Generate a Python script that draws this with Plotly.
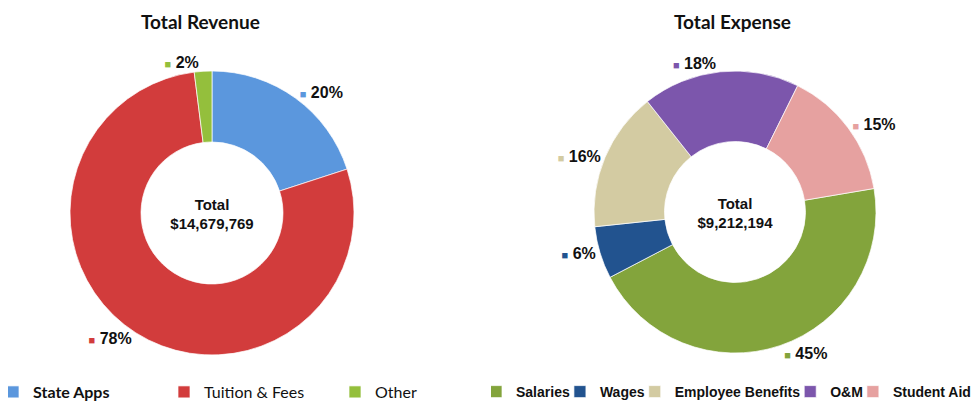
import plotly.graph_objects as go

# ---- data ----
rev_labels = ["State Apps", "Tuition & Fees", "Other"]
rev_values = [20, 78, 2]
rev_total = "$14,679,769"

exp_labels = ["Salaries", "Wages", "Employee Benefits", "O&M", "Student Aid"]
exp_values = [45, 6, 16, 18, 15]
exp_total = "$9,212,194"

# ---- styles ----
rev_colors = ["#5b97dd", "#d23c3c", "#94bf3c"]
exp_colors = ["#83a43c", "#22538f", "#d3cba2", "#7c56ac", "#e6a1a0"]
rev_legend_names = ["<b>" + rev_labels[0] + "</b>"] + rev_labels[1:]

# page body has an 8px margin; size the figure so it fits the 980x402 window
OFF = 8
W, H = 980 - OFF, 402 - OFF


def fx(px):
    return (px - OFF) / W


def fy(py):
    return 1 - (py - OFF) / H


def dom(cx, cy, r):
    return dict(x=[fx(cx - r), fx(cx + r)], y=[fy(cy + r), fy(cy - r)])


def lbl(colors, values):
    return [f"<span style='color:{c};font-size:11px'>■</span> <b>{v:.0f}%</b>" for c, v in zip(colors, values)]


fig = go.Figure()

fig.add_trace(go.Pie(
    labels=rev_legend_names, values=rev_values, sort=False, direction="clockwise", rotation=0,
    hole=0.5, domain=dom(212, 213, 142),
    marker=dict(colors=rev_colors, line=dict(color="rgba(255,255,255,0.7)", width=1)),
    text=lbl(rev_colors, rev_values), textinfo="text", textposition="outside",
    outsidetextfont=dict(family="Liberation Sans", size=16, color="#111111"),
    title=dict(text=f"<b>Total<br>{rev_total}</b>", position="middle center",
               font=dict(family="Liberation Sans", size=15, color="#111111")),
    legend="legend", hoverinfo="label+value+percent",
))

fig.add_trace(go.Pie(
    labels=exp_labels, values=exp_values, sort=False, direction="clockwise", rotation=80.4,
    hole=0.5, domain=dom(735, 212, 141),
    marker=dict(colors=exp_colors, line=dict(color="rgba(255,255,255,0.7)", width=1)),
    text=lbl(exp_colors, exp_values), textinfo="text", textposition="outside",
    outsidetextfont=dict(family="Liberation Sans", size=16, color="#111111"),
    title=dict(text=f"<b>Total<br>{exp_total}</b>", position="middle center",
               font=dict(family="Liberation Sans", size=15, color="#111111")),
    legend="legend2", hoverinfo="label+value+percent",
))

fig.add_annotation(text="<b>Total Revenue</b>", x=fx(200), y=fy(21), xref="paper", yref="paper",
                   xanchor="center", yanchor="middle", showarrow=False,
                   font=dict(family="Lato", size=19, color="#111111"))
fig.add_annotation(text="<b>Total Expense</b>", x=fx(732), y=fy(21), xref="paper", yref="paper",
                   xanchor="center", yanchor="middle", showarrow=False,
                   font=dict(family="Lato", size=19, color="#111111"))

fig.update_layout(
    width=W, height=H,
    margin=dict(l=0, r=0, t=0, b=0, autoexpand=False),
    paper_bgcolor="white", plot_bgcolor="white",
    legend=dict(orientation="h", x=0, xanchor="left", y=fy(392), yanchor="middle",
                entrywidth=141, indentation=-15,
                font=dict(family="Lato", size=16, color="#111111"),
                bgcolor="rgba(0,0,0,0)"),
    legend2=dict(orientation="h", x=fx(491), xanchor="left", y=fy(392), yanchor="middle",
                 indentation=-15,
                 font=dict(family="Liberation Sans", size=14, weight="bold", color="#111111"),
                 bgcolor="rgba(0,0,0,0)"),
)

fig.write_html("out.html")
